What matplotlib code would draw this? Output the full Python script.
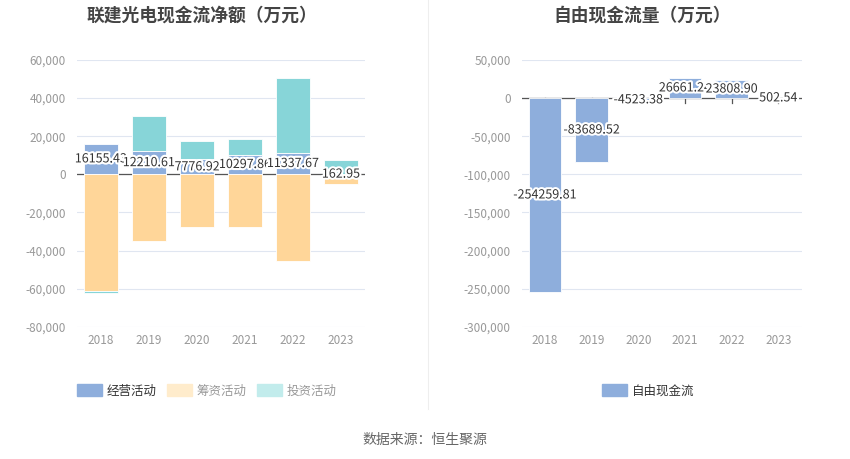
import numpy as np
import matplotlib.pyplot as plt
import matplotlib.patheffects as pe
from matplotlib.patches import Patch
from matplotlib.ticker import FuncFormatter

plt.rcParams['font.family'] = ['Noto Sans CJK SC', 'DejaVu Sans']

years = ['2018', '2019', '2020', '2021', '2022', '2023']
# 万元
operating = [16155.43, 12210.61, 7776.92, 10297.86, 11337.67, 162.95]
financing = [-61500, -35200, -27700, -27700, -45500, -5200]
investing = [-800, 18400, 9700, 8100, 39000, 7200]
free_cf = [-254259.81, -83689.52, -4523.38, 26661.24, 23808.90, 502.54]

c_op = '#8eaedc'
c_fin = '#ffd699'
c_inv = '#87d5d8'
grid_c = '#e0e6f1'
tick_c = '#999999'

fig = plt.figure(figsize=(8.5, 4.59), dpi=100)
ax1 = fig.add_axes([0.0906, 0.2882, 0.3388, 0.5811])
ax2 = fig.add_axes([0.6138, 0.2882, 0.3294, 0.5811])

halo = [pe.withStroke(linewidth=3, foreground='white')]


def style_axis(ax, ylim, step):
    ax.set_xlim(-0.5, len(years) - 0.5)
    ax.set_ylim(*ylim)
    ax.set_yticks(np.arange(ylim[0], ylim[1] + 1, step))
    ax.yaxis.set_major_formatter(FuncFormatter(lambda v, p: f'{v:,.0f}'))
    ax.grid(axis='y', color=grid_c, linewidth=0.8)
    ax.set_axisbelow(True)
    for s in ax.spines.values():
        s.set_visible(False)
    ax.tick_params(axis='y', length=0, colors=tick_c, labelsize=8.5, pad=8)
    ax.tick_params(axis='x', length=0, colors=tick_c, labelsize=8.5, pad=5)
    ax.set_xticks(range(len(years)))
    ax.set_xticklabels(years)
    ax.axhline(0, color='#555555', linewidth=0.9, zorder=1)
    for i in range(len(years)):
        ax.plot([i, i], [0, -(ylim[1] - ylim[0]) * 0.018], color='#555555',
                linewidth=0.9, zorder=1)


# left chart: stacked with separate positive / negative stacks
x = np.arange(len(years))
w = 0.69
pos_base = np.zeros(len(years))
neg_base = np.zeros(len(years))
for vals, col in [(operating, c_op), (financing, c_fin), (investing, c_inv)]:
    v = np.array(vals, dtype=float)
    base = np.where(v >= 0, pos_base, neg_base)
    ax1.bar(x, v, w, bottom=base, color=col, edgecolor='white', linewidth=0.6, zorder=2)
    if vals is operating:
        for i in range(len(years)):
            ax1.text(x[i], base[i] + v[i] / 2, f'{vals[i]:.2f}', ha='center', va='center',
                     fontsize=9, color='#333333', path_effects=halo, zorder=5)
    pos_base = np.where(v >= 0, pos_base + v, pos_base)
    neg_base = np.where(v < 0, neg_base + v, neg_base)

style_axis(ax1, (-80000, 60000), 20000)

# right chart
ax2.bar(x, free_cf, 0.7, color=c_op, edgecolor='white', linewidth=0.6, zorder=2)
for i in range(len(years)):
    ax2.text(x[i], free_cf[i] / 2, f'{free_cf[i]:.2f}', ha='center', va='center',
             fontsize=9, color='#333333', path_effects=halo, zorder=5)
style_axis(ax2, (-300000, 50000), 50000)

fig.text(0.237, 0.967, '联建光电现金流净额（万元）', ha='center', va='center',
         fontsize=12.8, fontweight='bold', color='#444444')
fig.text(0.755, 0.967, '自由现金流量（万元）', ha='center', va='center',
         fontsize=12.8, fontweight='bold', color='#444444')

fig.add_artist(plt.Line2D([0.503, 0.503], [0.11, 1.0], color='#eeeeee', linewidth=0.8))

leg_kw = dict(loc='center', frameon=False, fontsize=9, handlelength=2.0,
              handleheight=1.1, handletextpad=0.4, columnspacing=0.8)
leg1 = fig.legend(handles=[Patch(color=c_op), Patch(color='#ffeccc'), Patch(color='#c2ecec')],
                  labels=['经营活动', '筹资活动', '投资活动'], ncol=3,
                  bbox_to_anchor=(0.243, 0.148), **leg_kw)
for t, c in zip(leg1.get_texts(), ['#333333', '#999999', '#999999']):
    t.set_color(c)
leg2 = fig.legend(handles=[Patch(color=c_op)], labels=['自由现金流'],
                  bbox_to_anchor=(0.763, 0.148), **leg_kw)
leg2.get_texts()[0].set_color('#333333')

fig.text(0.4996, 0.041, '数据来源：恒生聚源', ha='center', va='center', fontsize=10, color='#666666')

fig.savefig('out.png', dpi=100)
